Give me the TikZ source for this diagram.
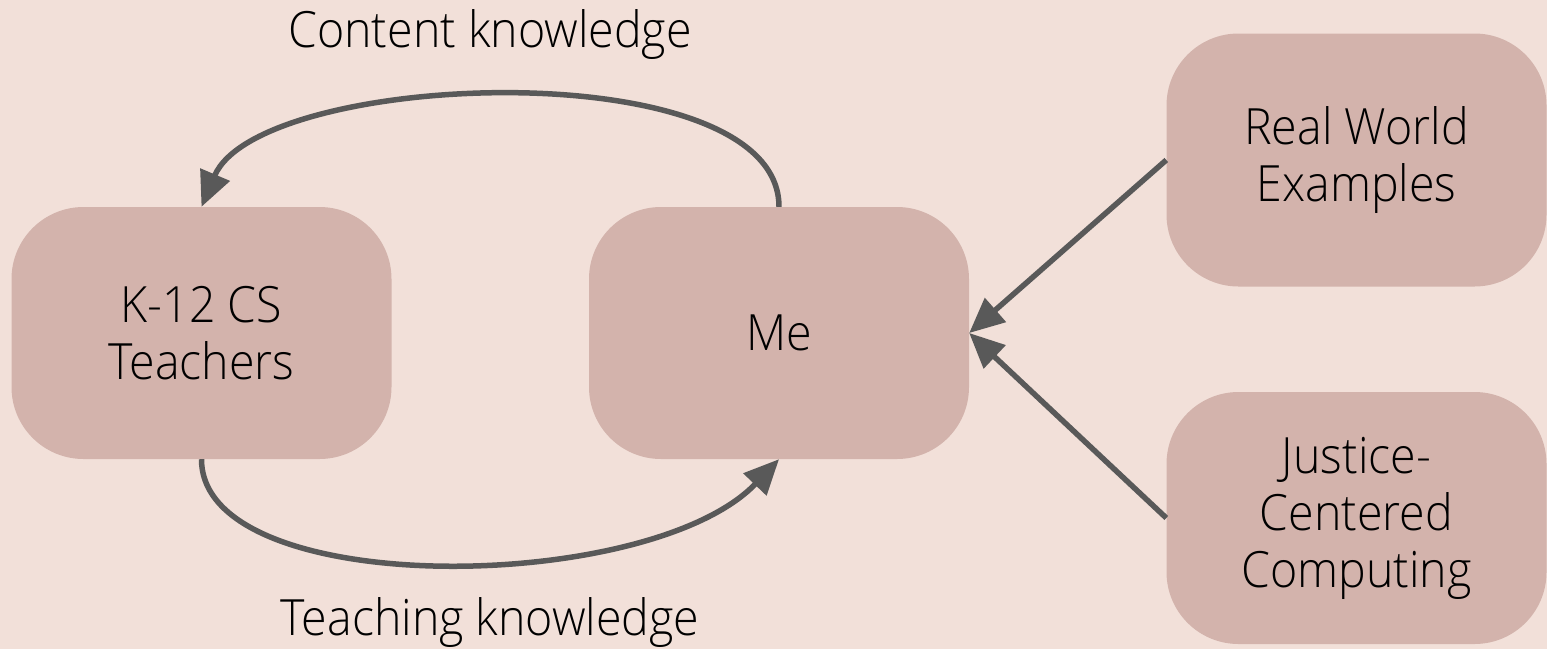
\documentclass[tikz,border=0pt]{standalone}
\usepackage{fontspec}
\setmainfont{Open Sans}[UprightFont={* Light},FakeStretch=0.93]
\usetikzlibrary{arrows.meta}
\definecolor{bgc}{HTML}{F2E0D9}
\definecolor{boxc}{HTML}{D3B3AC}
\definecolor{linec}{HTML}{595959}
\begin{document}
\begin{tikzpicture}[x=1pt,y=-1pt,
  box/.style={rectangle, rounded corners=72pt, fill=boxc, minimum width=380pt, minimum height=252pt, inner sep=0pt, align=center, font=\fontsize{50}{57}\selectfont},
  lbl/.style={anchor=base, inner sep=0pt, font=\fontsize{50}{57}\selectfont},
  conn/.style={draw=linec, line width=5.5pt, -{Triangle[length=35pt,width=31pt]}}]
\fill[bgc] (0,0) rectangle (1547,649);
\useasboundingbox (0,0) rectangle (1547,649);
\node[box] (k12) at (201.5,333) {K-12 CS\\Teachers};
\node[box] (me) at (779,333) {Me};
\node[box, minimum height=253pt] (rw) at (1356.5,160) {Real World\\Examples};
\node[box] (jc) at (1356.5,518) {Justice-\\Centered\\Computing};
\node[lbl] (ck) at (490,47) {Content knowledge};
\node[lbl] (tk) at (490,635) {Teaching knowledge};
\draw[conn] (me.north) .. controls +(0,-157) and +(58,-137) .. (k12.north);
\draw[conn] (k12.south) .. controls +(0,141) and +(-130,136) .. (me.south);
\draw[conn] (rw.west) -- (me.east);
\draw[conn] (jc.west) -- (me.east);
\end{tikzpicture}
\end{document}
